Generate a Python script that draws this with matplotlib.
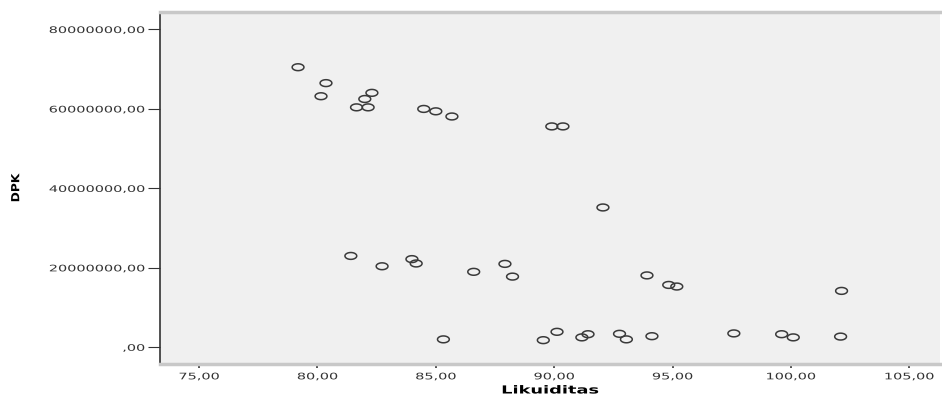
import numpy as np
import matplotlib
matplotlib.use("Agg")
import matplotlib.pyplot as plt
from matplotlib.path import Path
from matplotlib.ticker import FuncFormatter, FixedLocator
from matplotlib.patheffects import AbstractPathEffect
from matplotlib.transforms import Affine2D

# Data (Likuiditas vs DPK)
likuiditas = [79.18, 80.36, 80.15, 82.30, 82.00, 81.65, 82.14, 84.49, 85.00, 85.68,
              89.90, 90.37, 92.06, 81.41, 82.73, 83.99, 84.17, 86.60, 87.92, 88.24,
              85.32, 89.54, 90.12, 91.17, 91.43, 92.76, 93.05, 94.13, 93.92, 94.84,
              95.18, 97.59, 99.61, 100.10, 102.14, 102.10]
dpk = [70.5e6, 66.5e6, 63.2e6, 64.05e6, 62.5e6, 60.4e6, 60.4e6, 60.0e6, 59.4e6, 58.1e6,
       55.6e6, 55.6e6, 35.2e6, 23.0e6, 20.4e6, 22.2e6, 21.1e6, 19.0e6, 21.0e6, 17.8e6,
       2.0e6, 1.8e6, 3.9e6, 2.5e6, 3.3e6, 3.4e6, 2.0e6, 2.8e6, 18.1e6, 15.7e6,
       15.3e6, 3.5e6, 3.3e6, 2.5e6, 14.2e6, 2.7e6]

x_ticks = [75, 80, 85, 90, 95, 100, 105]
y_ticks = [0, 20e6, 40e6, 60e6, 80e6]

plt.rcParams['font.family'] = ['DejaVu Sans']


class Stretch(AbstractPathEffect):
    """Stretch a text path in display space about a pivot of its bbox."""
    def __init__(self, sx=1.0, sy=1.0, pivot='center'):
        super().__init__()
        self.sx, self.sy, self.pivot = sx, sy, pivot

    def draw_path(self, renderer, gc, tpath, affine, rgbFace=None):
        bb = tpath.get_extents(affine)
        if self.pivot == 'right':
            px = bb.x1
        elif self.pivot == 'left':
            px = bb.x0
        else:
            px = 0.5 * (bb.x0 + bb.x1)
        py = 0.5 * (bb.y0 + bb.y1)
        tr = affine + Affine2D().translate(-px, -py).scale(self.sx, self.sy).translate(px, py)
        renderer.draw_path(gc, tpath, tr, rgbFace)


fig = plt.figure(figsize=(9.42, 4.0), dpi=100)
ax = fig.add_axes([0.1699, 0.09, 0.828, 0.88])
ax.set_facecolor('#f0f0f0')

# elliptical open marker (wider than tall)
t = np.linspace(0, 2 * np.pi, 60)
verts = np.column_stack([np.cos(t), 0.58 * np.sin(t)])
ellipse = Path(verts, closed=True)

ax.scatter(likuiditas, dpk, marker=ellipse, s=72, facecolors='none',
           edgecolors='#3a3a3a', linewidths=1.1, zorder=3)

ax.set_xlim(73.35, 106.3)
ax.set_ylim(-4.2e6, 84.4e6)

ax.xaxis.set_major_locator(FixedLocator(x_ticks))
ax.yaxis.set_major_locator(FixedLocator(y_ticks))


def fmt(v, pos):
    s = f"{v:.2f}".replace('.', ',')
    if s.startswith('0,'):
        s = s[1:]
    return s


ax.xaxis.set_major_formatter(FuncFormatter(fmt))
ax.yaxis.set_major_formatter(FuncFormatter(fmt))

ax.tick_params(axis='x', direction='out', length=3, width=1.2, color='#333333',
               labelsize=6.5, labelcolor='#333333', pad=3)
ax.tick_params(axis='y', direction='out', length=9, width=0.8, color='#333333',
               labelsize=6.5, labelcolor='#333333', pad=2)

ax.spines['left'].set_color('#333333')
ax.spines['left'].set_linewidth(1.2)
ax.spines['top'].set_color('#c8c8c8')
ax.spines['top'].set_linewidth(2.5)
ax.spines['bottom'].set_color('#c8c8c8')
ax.spines['bottom'].set_linewidth(2.5)
ax.spines['right'].set_visible(False)

ax.set_xlabel('Likuiditas', fontsize=8, fontweight='bold', labelpad=3)
ax.set_ylabel('DPK', fontsize=8, fontweight='bold', labelpad=0)
ax.yaxis.set_label_coords(-0.178, 0.5)

fig.canvas.draw()
for tk in ax.xaxis.get_major_ticks():
    tk.label1.set_path_effects([Stretch(1.6, 1.0, 'center')])
for tk in ax.yaxis.get_major_ticks():
    tk.label1.set_path_effects([Stretch(1.6, 1.0, 'right')])
ax.xaxis.label.set_path_effects([Stretch(1.6, 1.0, 'center')])
ax.yaxis.label.set_path_effects([Stretch(1.0, 1.1, 'center')])

fig.savefig('out.png', dpi=100, facecolor='white')
